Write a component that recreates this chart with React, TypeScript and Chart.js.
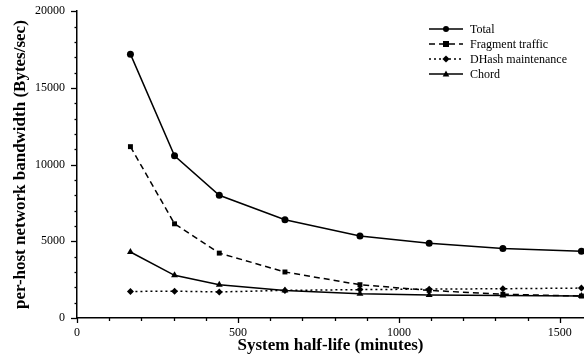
import React, { useEffect, useRef } from "react";
import { Chart, registerables } from "chart.js";

Chart.register(...registerables);

const halfLife = [166, 303, 442, 646, 879, 1094, 1323, 1567];
const total = [17200, 10580, 8000, 6400, 5350, 4870, 4530, 4350];
const fragment = [11170, 6140, 4230, 3000, 2170, 1800, 1550, 1430];
const dhash = [1730, 1750, 1700, 1800, 1850, 1880, 1910, 1950];
const chord = [4300, 2780, 2170, 1800, 1580, 1500, 1470, 1430];
const seriesNames = ["Total", "Fragment traffic", "DHash maintenance", "Chord"];
const yTickLabels = [0, 5000, 10000, 15000, 20000];
const xTickLabels = [0, 500, 1000, 1500];

const FONT = "'Liberation Serif', 'Times New Roman', serif";

function drawMarker(ctx: CanvasRenderingContext2D, style: string, x: number, y: number, r: number) {
  ctx.beginPath();
  if (style === "circle") {
    ctx.arc(x, y, r, 0, Math.PI * 2);
  } else if (style === "rect") {
    ctx.rect(x - r, y - r, 2 * r, 2 * r);
  } else if (style === "rectRot") {
    ctx.moveTo(x, y - r * 1.2);
    ctx.lineTo(x + r * 1.2, y);
    ctx.lineTo(x, y + r * 1.2);
    ctx.lineTo(x - r * 1.2, y);
    ctx.closePath();
  } else {
    ctx.moveTo(x, y - r * 1.2);
    ctx.lineTo(x + r * 1.1, y + r * 0.8);
    ctx.lineTo(x - r * 1.1, y + r * 0.8);
    ctx.closePath();
  }
  ctx.fill();
}

const legendPlugin = {
  id: "customLegend",
  afterDraw(chart: any) {
    const ctx = chart.ctx as CanvasRenderingContext2D;
    const x0 = 429;
    const x1 = 463;
    const tx = 470;
    const ys = [29, 44, 59, 74];
    ctx.save();
    chart.data.datasets.forEach((ds: any, i: number) => {
      const y = ys[i];
      ctx.strokeStyle = "#000";
      ctx.fillStyle = "#000";
      ctx.lineWidth = ds.borderWidth;
      ctx.setLineDash(ds.borderDash || []);
      ctx.beginPath();
      ctx.moveTo(x0, y);
      ctx.lineTo(x1, y);
      ctx.stroke();
      ctx.setLineDash([]);
      drawMarker(ctx, ds.pointStyle, (x0 + x1) / 2, y, 3);
      ctx.font = `12px ${FONT}`;
      ctx.textBaseline = "middle";
      ctx.textAlign = "left";
      ctx.fillText(ds.label, tx, y + 1);
    });
    ctx.restore();
  },
};

// axis tick marks: major ticks longer than minor ticks
const tickPlugin = {
  id: "axisTicks",
  afterDraw(chart: any) {
    const ctx = chart.ctx as CanvasRenderingContext2D;
    const xs = chart.scales.x;
    const ys = chart.scales.y;
    const left = chart.chartArea.left;
    const bottom = chart.chartArea.bottom;
    ctx.save();
    ctx.strokeStyle = "#000";
    ctx.lineWidth = 1.3;
    ys.ticks.forEach((t: any) => {
      const y = Math.round(ys.getPixelForValue(t.value)) + 0.5;
      const major = yTickLabels.includes(t.value);
      ctx.beginPath();
      ctx.moveTo(left, y);
      ctx.lineTo(left - (major ? 6 : 2.5), y);
      ctx.stroke();
    });
    xs.ticks.forEach((t: any) => {
      const x = Math.round(xs.getPixelForValue(t.value)) + 0.5;
      const major = xTickLabels.includes(t.value);
      ctx.beginPath();
      ctx.moveTo(x, bottom);
      ctx.lineTo(x, bottom + (major ? 5 : 3));
      ctx.stroke();
    });
    ctx.restore();
  },
};

export default function App() {
  const ref = useRef<HTMLCanvasElement>(null);
  useEffect(() => {
    if (!ref.current) return;
    const mk = (label: string, data: number[], pointStyle: string, dash: number[], r: number) => ({
      label,
      data: data.map((v, i) => ({ x: halfLife[i], y: v })),
      borderColor: "#000",
      backgroundColor: "#000",
      borderWidth: 1.5,
      borderDash: dash,
      pointStyle,
      pointRadius: r,
      pointBackgroundColor: "#000",
      pointBorderColor: "#000",
      pointBorderWidth: 0,
      tension: 0,
      clip: false as any,
    });
    const chart = new Chart(ref.current, {
      type: "line",
      data: {
        datasets: [
          mk(seriesNames[0], total, "circle", [], 3.5),
          mk(seriesNames[1], fragment, "rect", [6, 4], 3.5),
          mk(seriesNames[2], dhash, "rectRot", [2, 3], 3.5),
          mk(seriesNames[3], chord, "triangle", [], 4),
        ],
      },
      options: {
        animation: false,
        responsive: false,
        maintainAspectRatio: false,
        layout: { autoPadding: false, padding: { top: 1, right: 0, left: 0, bottom: 0 } },
        plugins: { legend: { display: false }, tooltip: { enabled: false } },
        scales: {
          x: {
            type: "linear",
            min: 0,
            max: 1575,
            afterBuildTicks: (s: any) => {
              s.ticks = s.ticks.filter((t: any) => Math.round(t.value) % 100 === 0);
            },
            afterFit: (s: any) => {
              s.height = 44;
            },
            ticks: {
              stepSize: 100,
              includeBounds: false,
              autoSkip: false,
              maxRotation: 0,
              padding: 4,
              color: "#000",
              font: { family: FONT, size: 12 },
              callback: (v: any) => (xTickLabels.includes(Math.round(v)) ? String(Math.round(v)) : ""),
            },
            grid: { display: false, drawOnChartArea: false, tickLength: 4 },
            border: { display: true, color: "#000", width: 1.5 },
            title: {
              display: true,
              text: "System half-life (minutes)",
              color: "#000",
              font: { family: FONT, size: 17, weight: "bold" },
              padding: { top: 0, bottom: 6 },
            },
          },
          y: {
            min: 0,
            max: 20000,
            afterFit: (s: any) => {
              s.width = 77;
            },
            ticks: {
              stepSize: 1000,
              autoSkip: false,
              padding: 4,
              color: "#000",
              font: { family: FONT, size: 12 },
              callback: (v: any) => (yTickLabels.includes(v) ? String(v) : ""),
            },
            grid: { display: false, drawOnChartArea: false, tickLength: 8 },
            border: { display: true, color: "#000", width: 1.5 },
            title: {
              display: true,
              text: "per-host network bandwidth (Bytes/sec)",
              color: "#000",
              font: { family: FONT, size: 17, weight: "bold" },
              padding: { top: 10, bottom: 0 },
            },
          },
        },
      },
      plugins: [legendPlugin, tickPlugin],
    });
    return () => chart.destroy();
  }, []);
  return (
    <div style={{ position: "fixed", left: 0, top: 0, width: 584, height: 362, background: "#fff" }}>
      <canvas ref={ref} width={584} height={362} style={{ width: 584, height: 362, display: "block" }} />
    </div>
  );
}
